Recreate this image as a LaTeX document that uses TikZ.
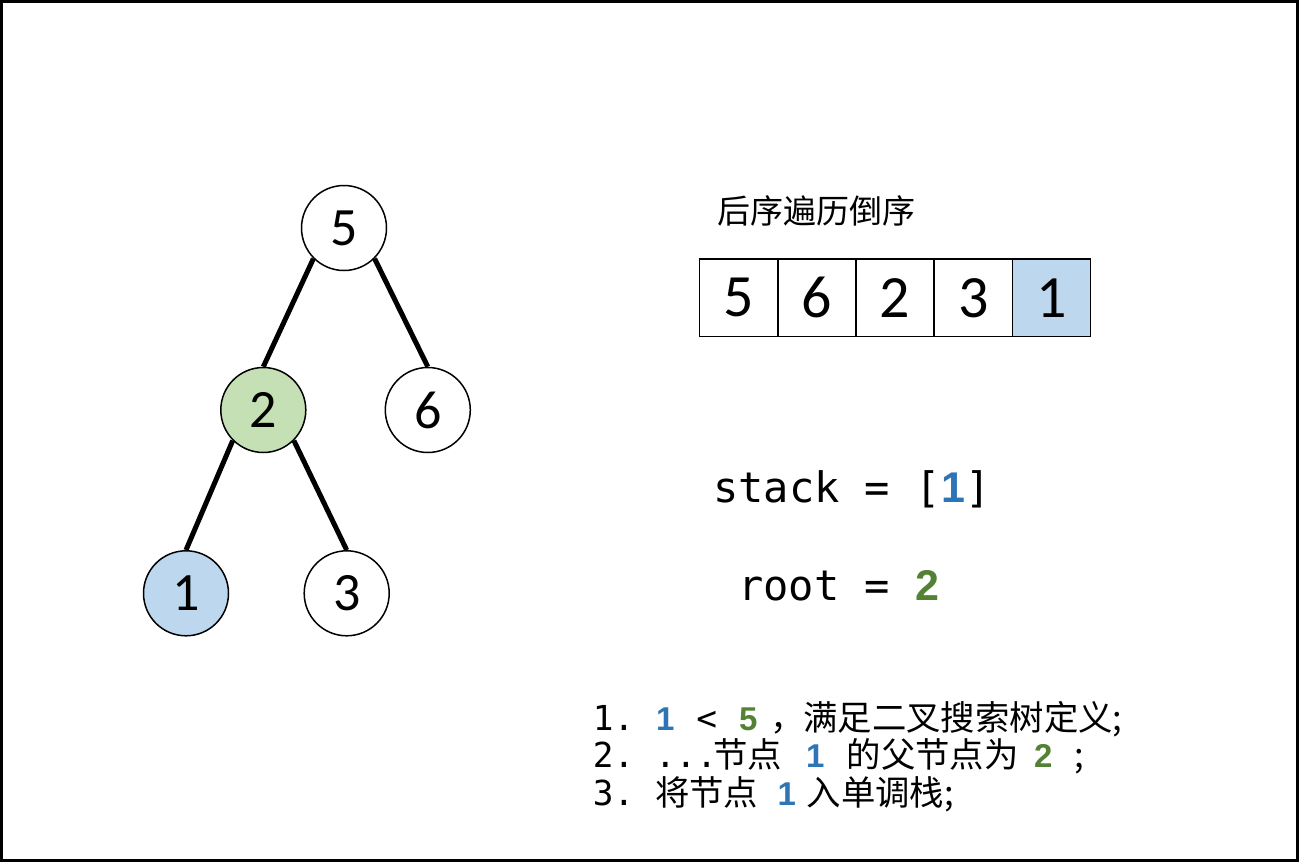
\documentclass[tikz,border=0pt]{standalone}
\usepackage{fontspec}
\usetikzlibrary{backgrounds}
\newfontfamily\cjk{Noto Sans CJK SC}
\newfontfamily\digitf{Carlito}
\newfontfamily\monof{DejaVu Sans Mono}
\newfontfamily\boldf{Liberation Sans}
\definecolor{cblue}{HTML}{2E75B6}
\definecolor{cgreen}{HTML}{548235}
\definecolor{fillblue}{HTML}{BDD7EE}
\definecolor{fillgreen}{HTML}{C5E0B4}
\newcommand\mcell[2][20.7pt]{\makebox[#1]{#2}}
\newcommand\bb[3][33]{{\color{#2}\boldf\bfseries\fontsize{#1}{#1}\selectfont #3}}
\begin{document}
\begin{tikzpicture}[x=1pt,y=-1pt,
  tnode/.style={circle, draw, line width=1.5pt, minimum size=85pt, inner sep=0pt, fill=white,
    font=\digitf\fontsize{54}{60}\selectfont},
  edge/.style={line width=5pt},
  cell/.style={rectangle, draw, line width=1.5pt, minimum width=78pt, minimum height=77.5pt,
    inner sep=0pt, fill=white, font=\digitf\fontsize{60}{66}\selectfont},
  line/.style={inner sep=0pt, anchor=base west, font=\fontsize{34.4}{40}\selectfont},
  code/.style={inner sep=0pt, anchor=base west, font=\monof\fontsize{42}{50}\selectfont}]
\useasboundingbox (0,0) rectangle (1299,862);
\draw[line width=3pt] (1.5,1.5) rectangle (1297.5,860.5);

% tree
\node[tnode] (n5) at (344,228) {5};
\node[tnode, fill=fillgreen] (n2) at (263.3,410) {2};
\node[tnode] (n6) at (427.8,410) {6};
\node[tnode, fill=fillblue] (n1) at (186,593.3) {1};
\node[tnode] (n3) at (346.7,593.3) {3};
\begin{scope}[on background layer]
\draw[edge] (n5.225) -- (n2.north);
\draw[edge] (n5.315) -- (n6.north);
\draw[edge] (n2.225) -- (n1.north);
\draw[edge] (n2.315) -- (n3.north);
\end{scope}

% array
\node[font=\cjk\fontsize{33}{40}\selectfont, inner sep=0pt] (title) at (816,211) {后序遍历倒序};
\node[cell] (a1) at (738.5,297.8) {5};
\node[cell] (a2) at (816.8,297.8) {6};
\node[cell] (a3) at (895.1,297.8) {2};
\node[cell] (a4) at (973.4,297.8) {3};
\node[cell, fill=fillblue] (a5) at (1051.7,297.8) {1};

% stack / root
\node[code] (stack) at (713,502) {stack = [\mcell[25.2pt]{\bb[43]{cblue}{1}}]};
\node[code] (root) at (738,600) {root = \mcell[25.2pt]{\bb[43]{cgreen}{2}}};

% notes
\node[line] (l1) at (592.7,730) {{\monof 1.\ }\mcell{\bb{cblue}{1}}{\monof\ <\ }\mcell{\bb{cgreen}{5}}{\monof\ }\makebox[24pt][l]{\hspace{-9pt}\cjk ，}{\cjk 满足二叉搜索树定义;}};
\node[line] (l2) at (592.7,767) {{\monof 2.\ ...}\hspace{-4pt}{\cjk 节点}\hspace{22.9pt}\mcell{\bb{cblue}{1}}\hspace{21.2pt}{\cjk 的父节点为}\hspace{14.1pt}\mcell{\bb{cgreen}{2}}\hspace{20.7pt}{\cjk ;}};
\node[line] (l3) at (592.7,805) {{\monof 3.\ }{\cjk 将节点}\hspace{18.2pt}\mcell{\bb{cblue}{1}}\hspace{9.6pt}{\cjk 入单调栈;}};
\end{tikzpicture}
\end{document}
